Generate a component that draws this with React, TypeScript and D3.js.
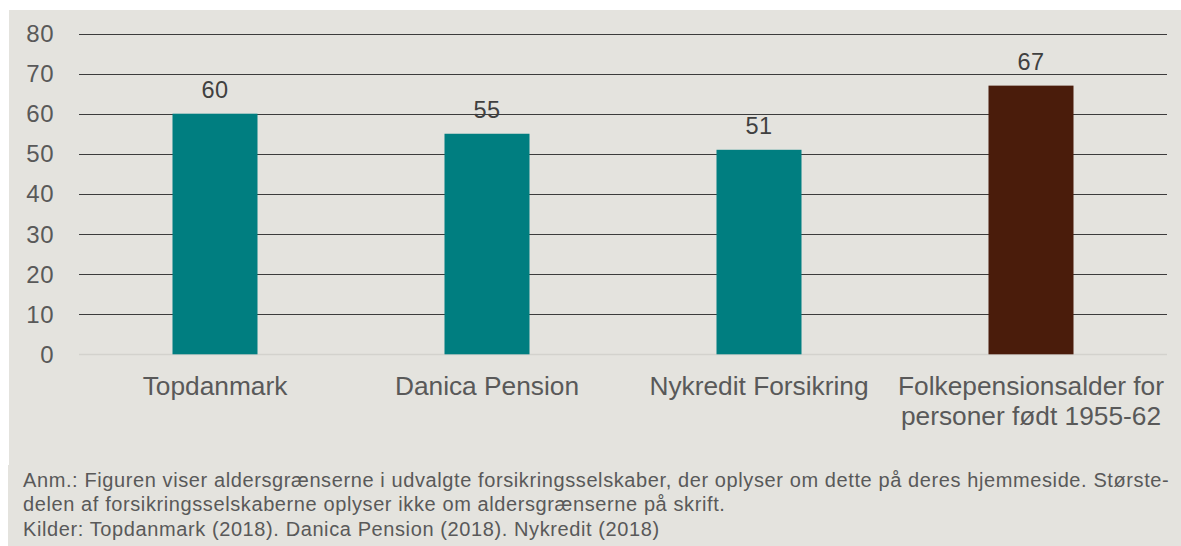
import * as d3 from "d3";
import React from "react";

const categories = [
  ["Topdanmark"],
  ["Danica Pension"],
  ["Nykredit Forsikring"],
  ["Folkepensionsalder for", "personer født 1955-62"],
];
const values = [60, 55, 51, 67];
const barColors = ["#007e80", "#007e80", "#007e80", "#4a1c0b"];
const yTicks = [0, 10, 20, 30, 40, 50, 60, 70, 80];
const noteLines = [
  "Anm.: Figuren viser aldersgrænserne i udvalgte forsikringsselskaber, der oplyser om dette på deres hjemmeside. Største-",
  "delen af forsikringsselskaberne oplyser ikke om aldersgrænserne på skrift.",
  "Kilder: Topdanmark (2018). Danica Pension (2018). Nykredit (2018)",
];

const font = "'Liberation Sans', Arial, sans-serif";

export default function App() {
  const width = 1181;
  const height = 546;
  const left = 79;
  const right = 1167;

  const x = d3
    .scaleBand()
    .domain(categories.map((c) => c.join(" ")))
    .range([left, right])
    .paddingInner(0.6875)
    .paddingOuter(0.34375);
  const y = d3.scaleLinear().domain([0, 80]).range([354.3, 33.5]);

  return (
    <svg
      width={width}
      height={height}
      style={{ position: "absolute", left: 0, top: 0, fontFamily: font }}
    >
      <rect x={0} y={0} width={width} height={height} fill="#ffffff" />
      <rect x={9} y={10} width={width - 9} height={455} fill="#e4e3de" />
      <rect x={8} y={465} width={width - 8} height={height - 465} fill="#e4e3de" />

      {/* gridlines */}
      {yTicks.map((t) => (
        <line
          key={t}
          x1={left}
          x2={right}
          y1={Math.round(y(t)) + 0.5}
          y2={Math.round(y(t)) + 0.5}
          stroke={t === 0 ? "#d3d2cd" : "#3c3c3c"}
          strokeWidth={t === 0 ? 1.5 : 1.2}
        />
      ))}
      {yTicks.map((t) => (
        <text
          key={"l" + t}
          x={54}
          y={y(t) + 8.5}
          textAnchor="end"
          fontSize={24}
          letterSpacing={0.5}
          fill="#595959"
        >
          {t}
        </text>
      ))}

      {/* bars */}
      {categories.map((c, i) => {
        const key = c.join(" ");
        const bx = x(key)!;
        return (
          <g key={key}>
            <rect
              x={bx}
              y={y(values[i])}
              width={x.bandwidth()}
              height={y(0) - y(values[i])}
              fill={barColors[i]}
            />
            <text
              x={bx + x.bandwidth() / 2}
              y={y(values[i]) - 16}
              textAnchor="middle"
              fontSize={23.5}
              letterSpacing={0.5}
              fill="#404040"
            >
              {values[i]}
            </text>
            {c.map((line, j) => (
              <text
                key={j}
                x={bx + x.bandwidth() / 2}
                y={394.5 + j * 30.7}
                textAnchor="middle"
                fontSize={26.3}
                fill="#595959"
              >
                {line}
              </text>
            ))}
          </g>
        );
      })}

      {/* notes */}
      {noteLines.map((line, i) => (
        <text
          key={i}
          x={23}
          y={487 + i * 24.3}
          fontSize={20}
          letterSpacing={0.6}
          fill="#595959"
        >
          {line}
        </text>
      ))}
    </svg>
  );
}
